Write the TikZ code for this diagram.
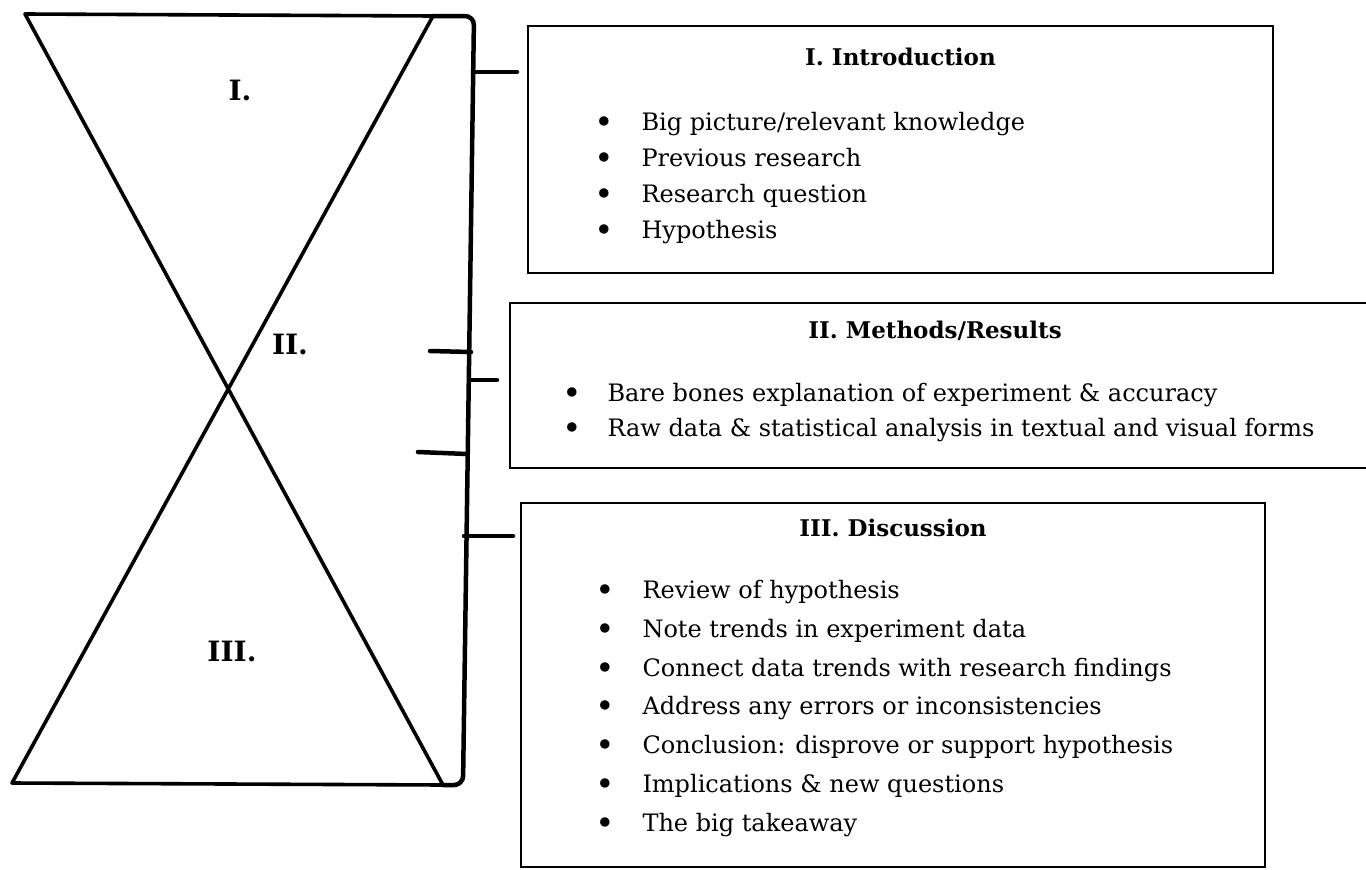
\documentclass[tikz,border=0pt]{standalone}
\usepackage{fontspec}
\setmainfont{DejaVu Serif}
\usetikzlibrary{positioning}
\tikzstyle{box} = [rectangle, draw, line width=1.6pt, inner sep=0pt]
\tikzstyle{head} = [font=\fontsize{23}{27}\selectfont\bfseries]
\tikzstyle{items} = [font=\fontsize{24}{36}\selectfont, anchor=north west, inner sep=0pt]
\tikzstyle{roman} = [font=\fontsize{28}{32}\selectfont\bfseries]
\tikzstyle{frame} = [line width=3.6pt, line join=round, line cap=round]
\tikzstyle{brace} = [line width=4.5pt, line cap=round, rounded corners=9pt]
\newcommand{\itemdot}{\raisebox{-3pt}{\scalebox{1.35}{\textbullet}}}

\begin{document}
\begin{tikzpicture}[x=1pt, y=-1pt]
    \useasboundingbox (0,0) rectangle (1366,870);
    \clip (0,0) rectangle (1366,870);
    % hourglass
    \coordinate (tl) at (25,14);
    \coordinate (tr) at (433,16);
    \coordinate (bl) at (12,783);
    \coordinate (br) at (443,785);
    \draw[frame] (tl) -- (tr) -- (bl) -- (br) -- cycle;
    \node[roman] (one) at (240,90) {I.};
    \node[roman] (two) at (290,344) {II.};
    \node[roman] (three) at (232,651) {III.};
    % braces
    \coordinate (tipa) at (517,72);
    \coordinate (tipb) at (497,380);
    \coordinate (tipc) at (513,536);
    \coordinate (enda) at (430,351);
    \coordinate (endb) at (418,452);
    \draw[brace] (tr) -- (474,16) -- (463,785) -- (br);
    \draw[brace, rounded corners=0pt] (473,72) -- (tipa);
    \draw[brace, rounded corners=0pt] (469,380) -- (tipb);
    \draw[brace, rounded corners=0pt] (464,536) -- (tipc);
    \draw[brace, rounded corners=0pt] (471,352) -- (enda);
    \draw[brace, rounded corners=0pt] (467,454) -- (endb);
    % boxes
    \node[box, minimum width=745pt, minimum height=247pt] (intro) at (900.5,149.5) {};
    \node[box, minimum width=890pt, minimum height=165pt] (meth) at (955,385.5) {};
    \node[box, minimum width=744pt, minimum height=364pt] (disc) at (893,685) {};
    \node[head, below=19pt of intro.north] (introhead) {I. Introduction};
    \node[head, xshift=-20pt, below=15pt of meth.north] (methhead) {II. Methods/Results};
    \node[head, below=13pt of disc.north] (dischead) {III. Discussion};
    \node[items] (introlist) at ([xshift=67pt, yshift=-80pt]intro.north west) {%
      \begin{tabular}{@{}c@{\hspace{28pt}}l@{}}
        \itemdot & Big picture/relevant knowledge\\
        \itemdot & Previous research\\
        \itemdot & Research question\\
        \itemdot & Hypothesis
      \end{tabular}};
    \node[items, font=\fontsize{24}{35}\selectfont] (methlist) at ([xshift=53pt, yshift=-75pt]meth.north west) {%
      \begin{tabular}{@{}c@{\hspace{26pt}}l@{}}
        \itemdot & Bare bones explanation of experiment \& accuracy\\
        \itemdot & Raw data \& statistical analysis in textual and visual forms
      \end{tabular}};
    \node[items, font=\fontsize{24}{38.8}\selectfont] (disclist) at ([xshift=75pt, yshift=-69pt]disc.north west) {%
      \begin{tabular}{@{}c@{\hspace{28pt}}l@{}}
        \itemdot & Review of hypothesis\\
        \itemdot & Note trends in experiment data\\
        \itemdot & Connect data trends with research findings\\
        \itemdot & Address any errors or inconsistencies\\
        \itemdot & Conclusion: disprove or support hypothesis\\
        \itemdot & Implications \& new questions\\
        \itemdot & The big takeaway
      \end{tabular}};
  \end{tikzpicture}
\end{document}
